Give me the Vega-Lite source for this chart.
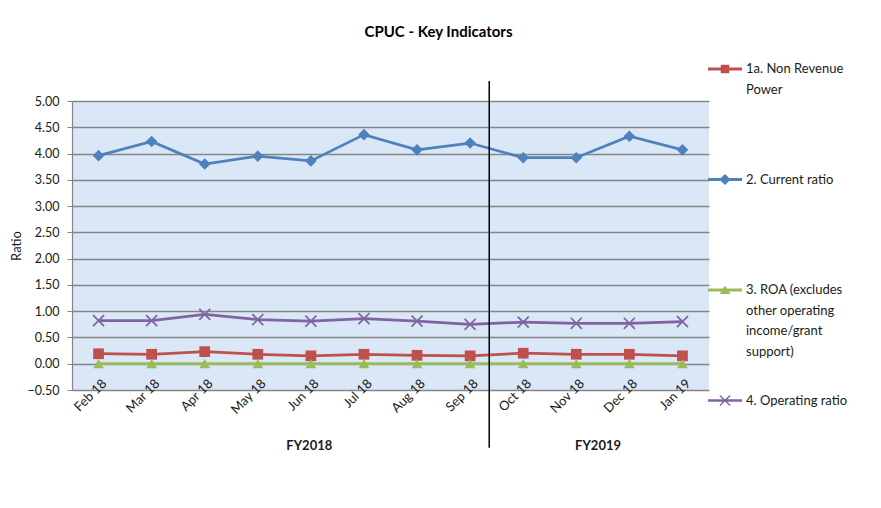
{
  "$schema": "https://vega.github.io/schema/vega-lite/v6.json",
  "width": 637,
  "height": 289,
  "autosize": {"type": "none"},
  "padding": {"left": 72, "top": 101, "right": 172, "bottom": 118},
  "background": "white",
  "title": {"text": "CPUC - Key Indicators", "font": "Lato", "fontSize": 15, "fontWeight": "bold", "color": "#000000", "anchor": "middle", "frame": "group", "dx": 48, "offset": 12},
  "config": {
    "view": {"stroke": null, "fill": "#D9E7F7"},
    "font": "Lato",
    "style": {"guide-label": {"lineHeight": 20.5}}
  },
  "datasets": {
    "ratios": [
      {"month": "Feb 18", "series": "1a. Non Revenue Power", "value": 0.19},
      {"month": "Mar 18", "series": "1a. Non Revenue Power", "value": 0.18},
      {"month": "Apr 18", "series": "1a. Non Revenue Power", "value": 0.23},
      {"month": "May 18", "series": "1a. Non Revenue Power", "value": 0.18},
      {"month": "Jun 18", "series": "1a. Non Revenue Power", "value": 0.15},
      {"month": "Jul 18", "series": "1a. Non Revenue Power", "value": 0.18},
      {"month": "Aug 18", "series": "1a. Non Revenue Power", "value": 0.16},
      {"month": "Sep 18", "series": "1a. Non Revenue Power", "value": 0.15},
      {"month": "Oct 18", "series": "1a. Non Revenue Power", "value": 0.20},
      {"month": "Nov 18", "series": "1a. Non Revenue Power", "value": 0.18},
      {"month": "Dec 18", "series": "1a. Non Revenue Power", "value": 0.18},
      {"month": "Jan 19", "series": "1a. Non Revenue Power", "value": 0.15},
      {"month": "Feb 18", "series": "2. Current ratio", "value": 3.96},
      {"month": "Mar 18", "series": "2. Current ratio", "value": 4.23},
      {"month": "Apr 18", "series": "2. Current ratio", "value": 3.80},
      {"month": "May 18", "series": "2. Current ratio", "value": 3.95},
      {"month": "Jun 18", "series": "2. Current ratio", "value": 3.86},
      {"month": "Jul 18", "series": "2. Current ratio", "value": 4.36},
      {"month": "Aug 18", "series": "2. Current ratio", "value": 4.07},
      {"month": "Sep 18", "series": "2. Current ratio", "value": 4.20},
      {"month": "Oct 18", "series": "2. Current ratio", "value": 3.92},
      {"month": "Nov 18", "series": "2. Current ratio", "value": 3.92},
      {"month": "Dec 18", "series": "2. Current ratio", "value": 4.33},
      {"month": "Jan 19", "series": "2. Current ratio", "value": 4.07},
      {"month": "Feb 18", "series": "3. ROA (excludes other operating income/grant support)", "value": 0.0},
      {"month": "Mar 18", "series": "3. ROA (excludes other operating income/grant support)", "value": 0.0},
      {"month": "Apr 18", "series": "3. ROA (excludes other operating income/grant support)", "value": 0.0},
      {"month": "May 18", "series": "3. ROA (excludes other operating income/grant support)", "value": 0.0},
      {"month": "Jun 18", "series": "3. ROA (excludes other operating income/grant support)", "value": 0.0},
      {"month": "Jul 18", "series": "3. ROA (excludes other operating income/grant support)", "value": 0.0},
      {"month": "Aug 18", "series": "3. ROA (excludes other operating income/grant support)", "value": 0.0},
      {"month": "Sep 18", "series": "3. ROA (excludes other operating income/grant support)", "value": 0.0},
      {"month": "Oct 18", "series": "3. ROA (excludes other operating income/grant support)", "value": 0.0},
      {"month": "Nov 18", "series": "3. ROA (excludes other operating income/grant support)", "value": 0.0},
      {"month": "Dec 18", "series": "3. ROA (excludes other operating income/grant support)", "value": 0.0},
      {"month": "Jan 19", "series": "3. ROA (excludes other operating income/grant support)", "value": 0.0},
      {"month": "Feb 18", "series": "4. Operating ratio", "value": 0.82},
      {"month": "Mar 18", "series": "4. Operating ratio", "value": 0.82},
      {"month": "Apr 18", "series": "4. Operating ratio", "value": 0.94},
      {"month": "May 18", "series": "4. Operating ratio", "value": 0.84},
      {"month": "Jun 18", "series": "4. Operating ratio", "value": 0.81},
      {"month": "Jul 18", "series": "4. Operating ratio", "value": 0.86},
      {"month": "Aug 18", "series": "4. Operating ratio", "value": 0.81},
      {"month": "Sep 18", "series": "4. Operating ratio", "value": 0.75},
      {"month": "Oct 18", "series": "4. Operating ratio", "value": 0.79},
      {"month": "Nov 18", "series": "4. Operating ratio", "value": 0.77},
      {"month": "Dec 18", "series": "4. Operating ratio", "value": 0.77},
      {"month": "Jan 19", "series": "4. Operating ratio", "value": 0.80}
    ]
  },
  "layer": [
    {
      "data": {"name": "ratios"},
      "mark": {"type": "point", "filled": true, "opacity": 0},
      "encoding": {
        "x": {
          "field": "month", "type": "ordinal", "sort": null,
          "scale": {"paddingInner": 0, "paddingOuter": 0},
          "axis": {"title": null, "labelAngle": -45, "labelAlign": "right", "labelBaseline": "middle", "labelFont": "Lato", "labelFontSize": 13, "labelColor": "#1a1a1a", "ticks": false, "domain": false, "labelPadding": -9, "labelOffset": 6}
        },
        "y": {
          "field": "value", "type": "quantitative",
          "scale": {"domain": [-0.5, 5], "nice": false, "zero": false},
          "axis": {"title": "Ratio", "titleFont": "Lato", "titleFontSize": 13, "titleFontWeight": "normal", "titleColor": "#1a1a1a", "titlePadding": 4, "values": [-0.5, 0, 0.5, 1, 1.5, 2, 2.5, 3, 3.5, 4, 4.5, 5], "tickCount": 12, "labelOverlap": false, "format": ".2f", "labelFont": "Lato", "labelFontSize": 12.5, "labelColor": "#1a1a1a", "labelPadding": 8, "tickColor": "#868686", "tickSize": 5, "domainColor": "#868686", "domainWidth": 1.2, "gridColor": "#868686", "gridWidth": 1.3, "gridOpacity": 1}
        },
        "color": {
          "field": "series", "type": "nominal", "sort": null,
          "scale": {"domain": ["1a. Non Revenue Power", "2. Current ratio", "3. ROA (excludes other operating income/grant support)", "4. Operating ratio"], "range": ["#C0504D", "#4F81BD", "#9BBB59", "#8064A2"]},
          "legend": {
            "title": null, "orient": "none", "legendX": 636, "legendY": -49, "padding": 0,
            "symbolSize": 1156, "symbolOffset": 0, "symbolOpacity": 1, "symbolStrokeWidth": 0, "labelOffset": 4, "rowPadding": 24.5,
            "labelFont": "Lato", "labelFontSize": 13, "labelColor": "#1a1a1a", "labelBaseline": "middle", "labelLimit": 200,
            "labelExpr": "datum.label == '1a. Non Revenue Power' ? ['1a. Non Revenue', 'Power', '', ''] : datum.label == '2. Current ratio' ? ['2. Current ratio', '', '', ''] : datum.label == '4. Operating ratio' ? ['4. Operating ratio', '', '', ''] : ['3. ROA (excludes', 'other operating', 'income/grant', 'support)']"
          }
        },
        "shape": {
          "field": "series", "type": "nominal", "sort": null,
          "scale": {"domain": ["1a. Non Revenue Power", "2. Current ratio", "3. ROA (excludes other operating income/grant support)", "4. Operating ratio"], "range": [
            "M-1,-0.09H1V0.09H-1Z M-0.25,-0.25H0.25V0.25H-0.25Z",
            "M-1,-0.09H1V0.09H-1Z M0,-0.33L0.33,0L0,0.33L-0.33,0Z",
            "M-1,-0.09H1V0.09H-1Z M0,-0.27L0.32,0.24L-0.32,0.24Z",
            "M-1,-0.07H1V0.07H-1Z M-0.33,-0.27L-0.27,-0.33L0.33,0.27L0.27,0.33Z M0.33,-0.27L-0.27,0.33L-0.33,0.27L0.27,-0.33Z"
          ]},
          "legend": {
            "title": null, "orient": "none", "legendX": 636, "legendY": -49, "padding": 0,
            "symbolSize": 1156, "symbolOffset": 0, "symbolOpacity": 1, "symbolStrokeWidth": 0, "labelOffset": 4, "rowPadding": 24.5,
            "labelFont": "Lato", "labelFontSize": 13, "labelColor": "#1a1a1a", "labelBaseline": "middle", "labelLimit": 200,
            "labelExpr": "datum.label == '1a. Non Revenue Power' ? ['1a. Non Revenue', 'Power', '', ''] : datum.label == '2. Current ratio' ? ['2. Current ratio', '', '', ''] : datum.label == '4. Operating ratio' ? ['4. Operating ratio', '', '', ''] : ['3. ROA (excludes', 'other operating', 'income/grant', 'support)']"
          }
        }
      }
    },
    {
      "data": {"name": "ratios"},
      "mark": {"type": "line", "strokeWidth": 2.75},
      "encoding": {
        "x": {"field": "month", "type": "ordinal", "sort": null},
        "y": {"field": "value", "type": "quantitative"},
        "color": {"field": "series", "type": "nominal", "sort": null}
      }
    },
    {
      "data": {"name": "ratios"},
      "transform": [{"filter": "datum.series == '1a. Non Revenue Power'"}],
      "mark": {"type": "point", "filled": true, "opacity": 1, "shape": "square", "size": 115},
      "encoding": {
        "x": {"field": "month", "type": "ordinal", "sort": null},
        "y": {"field": "value", "type": "quantitative"},
        "color": {"field": "series", "type": "nominal", "sort": null}
      }
    },
    {
      "data": {"name": "ratios"},
      "transform": [{"filter": "datum.series == '2. Current ratio'"}],
      "mark": {"type": "point", "filled": true, "opacity": 1, "shape": "diamond", "size": 135},
      "encoding": {
        "x": {"field": "month", "type": "ordinal", "sort": null},
        "y": {"field": "value", "type": "quantitative"},
        "color": {"field": "series", "type": "nominal", "sort": null}
      }
    },
    {
      "data": {"name": "ratios"},
      "transform": [{"filter": "datum.series == '3. ROA (excludes other operating income/grant support)'"}],
      "mark": {"type": "point", "filled": true, "opacity": 1, "shape": "triangle-up", "size": 115},
      "encoding": {
        "x": {"field": "month", "type": "ordinal", "sort": null},
        "y": {"field": "value", "type": "quantitative"},
        "color": {"field": "series", "type": "nominal", "sort": null}
      }
    },
    {
      "data": {"name": "ratios"},
      "transform": [{"filter": "datum.series == '4. Operating ratio'"}],
      "mark": {"type": "point", "filled": true, "opacity": 1, "shape": "M-1,-0.8L-0.8,-1L1,0.8L0.8,1Z M1,-0.8L-0.8,1L-1,0.8L0.8,-1Z", "size": 150},
      "encoding": {
        "x": {"field": "month", "type": "ordinal", "sort": null},
        "y": {"field": "value", "type": "quantitative"},
        "color": {"field": "series", "type": "nominal", "sort": null}
      }
    },
    {
      "data": {"values": [{"month": "Sep 18"}]},
      "mark": {"type": "rule", "color": "#000000", "strokeWidth": 1.5, "clip": false},
      "encoding": {
        "x": {"field": "month", "type": "ordinal", "sort": null, "bandPosition": 0.86},
        "y": {"datum": 5.38},
        "y2": {"datum": -1.6}
      }
    },
    {
      "data": {"values": [{"month": "Jun 18", "fy": "FY2018"}]},
      "mark": {"type": "text", "font": "Lato", "fontSize": 13, "fontWeight": "bold", "color": "#1a1a1a", "baseline": "middle", "align": "center"},
      "encoding": {
        "x": {"field": "month", "type": "ordinal", "sort": null, "bandPosition": 0.47},
        "y": {"datum": -1.565},
        "text": {"field": "fy"}
      }
    },
    {
      "data": {"values": [{"month": "Nov 18", "fy": "FY2019"}]},
      "mark": {"type": "text", "font": "Lato", "fontSize": 13, "fontWeight": "bold", "color": "#1a1a1a", "baseline": "middle", "align": "center"},
      "encoding": {
        "x": {"field": "month", "type": "ordinal", "sort": null, "bandPosition": 0.91},
        "y": {"datum": -1.565},
        "text": {"field": "fy"}
      }
    }
  ]
}
